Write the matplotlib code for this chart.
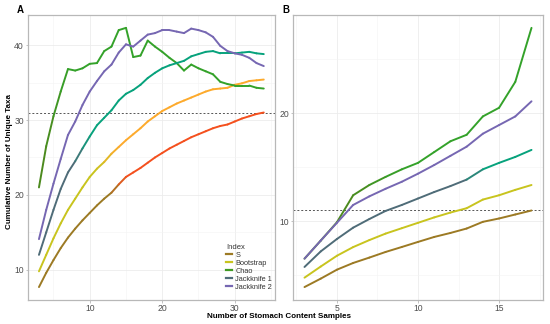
import numpy as np
import matplotlib
matplotlib.use('Agg')
import matplotlib.pyplot as plt
from matplotlib.collections import LineCollection
from matplotlib.colors import to_rgb
from matplotlib.lines import Line2D

plt.rcParams['font.family'] = ['Liberation Sans', 'DejaVu Sans']

# panel A: samples 3..34
samples_a = list(range(3, 35))
s_a = [7.7, 9.6, 11.3, 12.9, 14.3, 15.5, 16.6, 17.6, 18.6, 19.5, 20.3, 21.4, 22.4, 23.0, 23.6, 24.3,
       25.0, 25.6, 26.2, 26.7, 27.2, 27.7, 28.1, 28.5, 28.9, 29.2, 29.4, 29.8, 30.2, 30.5, 30.8, 31.0]
boot_a = [9.8, 12.0, 14.2, 16.2, 18.0, 19.5, 21.0, 22.4, 23.5, 24.4, 25.5, 26.4, 27.3, 28.1, 28.9, 29.8,
          30.5, 31.2, 31.7, 32.2, 32.6, 33.0, 33.4, 33.8, 34.1, 34.2, 34.3, 34.7, 34.9, 35.2, 35.3, 35.4]
chao_a = [21.0, 26.5, 30.5, 33.8, 36.8, 36.6, 36.9, 37.5, 37.6, 39.2, 39.8, 42.0, 42.3, 38.4, 38.6, 40.6,
          39.8, 39.1, 38.3, 37.6, 36.6, 37.4, 36.9, 36.5, 36.1, 35.1, 34.8, 34.6, 34.6, 34.6, 34.3, 34.2]
jack1_a = [12.0, 15.0, 18.0, 20.8, 23.0, 24.5, 26.2, 27.8, 29.3, 30.3, 31.3, 32.6, 33.5, 34.0, 34.7, 35.6,
           36.3, 36.9, 37.3, 37.6, 37.9, 38.5, 38.8, 39.1, 39.2, 38.9, 38.9, 38.9, 39.0, 39.1, 38.9, 38.8]
jack2_a = [14.1, 18.0, 21.5, 24.8, 28.0, 29.8, 32.0, 33.8, 35.2, 36.5, 37.4, 39.0, 40.1, 39.8, 40.6, 41.4,
           41.6, 42.0, 42.0, 41.8, 41.6, 42.2, 42.0, 41.7, 41.1, 39.9, 39.2, 38.9, 38.7, 38.3, 37.6, 37.2]

# panel B: samples 3..17
samples_b = list(range(3, 18))
s_b = [3.9, 4.68, 5.51, 6.13, 6.63, 7.15, 7.61, 8.08, 8.54, 8.91, 9.32, 9.94, 10.25, 10.62, 10.99]
boot_b = [4.77, 5.8, 6.8, 7.6, 8.25, 8.85, 9.35, 9.85, 10.35, 10.8, 11.2, 12.0, 12.4, 12.9, 13.35]
chao_b = [6.53, 8.2, 9.9, 12.4, 13.35, 14.1, 14.8, 15.4, 16.4, 17.4, 18.0, 19.7, 20.5, 22.9, 27.9]
jack1_b = [5.76, 7.2, 8.35, 9.4, 10.2, 10.95, 11.5, 12.1, 12.7, 13.25, 13.85, 14.8, 15.4, 15.95, 16.6]
jack2_b = [6.53, 8.2, 9.85, 11.5, 12.3, 13.0, 13.65, 14.4, 15.2, 16.05, 16.9, 18.1, 18.9, 19.7, 21.1]

observed_a = 31.0
observed_b = 11.0

index_names = ['S', 'Bootstrap', 'Chao', 'Jackknife 1', 'Jackknife 2']
legend_colors = ['#9c7a24', '#c8c41e', '#3f9a22', '#4f6c78', '#7667b2']

BROWN, RED = '#9c7a24', '#f4501e'
YELLOW, ORANGE = '#c8c41e', '#fdaa2c'
OLIVE, GREEN = '#4c8a1e', '#34a22a'
SLATE, TEAL = '#4f6c78', '#07a27c'
PURPLE = '#7667b2'


def fade_line(ax, x, y, c0, c1=None, xa=0, xb=1):
    # line whose colour blends from c0 to c1 between xa and xb
    c1 = c0 if c1 is None else c1
    x = np.asarray(x, float)
    y = np.asarray(y, float)
    pts = np.column_stack([x, y]).reshape(-1, 1, 2)
    segs = np.concatenate([pts[:-1], pts[1:]], axis=1)
    mid = (x[:-1] + x[1:]) / 2
    t = np.clip((mid - xa) / max(xb - xa, 1e-9), 0, 1)[:, None]
    cols = (1 - t) * np.array(to_rgb(c0)) + t * np.array(to_rgb(c1))
    lc = LineCollection(segs, colors=cols, linewidths=1.4, capstyle='round', joinstyle='round', zorder=3)
    ax.add_collection(lc)


def style(ax, xmajor, ymajor):
    ax.set_facecolor('white')
    for sp in ax.spines.values():
        sp.set_color('#b8b8b8')
        sp.set_linewidth(0.9)
    ax.set_xticks(xmajor)
    ax.set_yticks(ymajor)
    xl, yl = ax.get_xlim(), ax.get_ylim()
    xs = np.diff(xmajor)[0] / 2
    ys = np.diff(ymajor)[0] / 2
    ax.set_xticks(np.arange(xmajor[0] - xs * 4, xl[1], xs), minor=True)
    ax.set_yticks(np.arange(ymajor[0] - ys * 4, yl[1], ys), minor=True)
    ax.set_xlim(xl)
    ax.set_ylim(yl)
    ax.grid(which='major', color='#ececec', linewidth=0.6)
    ax.grid(which='minor', color='#f4f4f4', linewidth=0.4)
    ax.set_axisbelow(True)
    ax.tick_params(which='major', length=1.8, width=0.6, color='#b8b8b8',
                   labelsize=6.2, labelcolor='#4d4d4d', pad=1)
    ax.tick_params(which='minor', length=0)


fig = plt.figure(figsize=(5.5, 3.24), dpi=100)
ax1 = fig.add_axes([0.0504, 0.074, 0.4496, 0.880])
ax2 = fig.add_axes([0.533, 0.074, 0.454, 0.880])

# panel A
fade_line(ax1, samples_a, s_a, BROWN, RED, 13, 15)
fade_line(ax1, samples_a, boot_a, YELLOW, ORANGE, 11, 14)
fade_line(ax1, samples_a, chao_a, OLIVE, GREEN, 4, 7)
fade_line(ax1, samples_a, jack1_a, SLATE, TEAL, 8, 10)
fade_line(ax1, samples_a, jack2_a, PURPLE)
ax1.autoscale_view()
ax1.axhline(observed_a, color='#555555', linestyle=(0, (2, 2)), linewidth=0.7, zorder=2)
style(ax1, [10, 20, 30], [10, 20, 30, 40])

# panel B
fade_line(ax2, samples_b, s_b, BROWN)
fade_line(ax2, samples_b, boot_b, YELLOW)
fade_line(ax2, samples_b, chao_b, OLIVE, GREEN, 6, 9)
fade_line(ax2, samples_b, jack1_b, SLATE, TEAL, 13, 14)
fade_line(ax2, samples_b, jack2_b, PURPLE)
ax2.autoscale_view()
ax2.axhline(observed_b, color='#555555', linestyle=(0, (2, 2)), linewidth=0.7, zorder=2)
style(ax2, [5, 10, 15], [10, 20])

handles = [Line2D([], [], color=c, linewidth=1.6) for c in legend_colors]
leg = ax1.legend(handles, index_names, title='Index', loc='upper left', bbox_to_anchor=(0.78, 0.215),
                 frameon=False, fontsize=5.3, title_fontsize=5.5, handlelength=0.8, handletextpad=0.5,
                 labelspacing=0.12, borderpad=0.2)
leg._legend_box.align = 'left'
for txt in leg.get_texts():
    txt.set_color('#333333')
leg.get_title().set_color('#333333')

fig.text(0.031, 0.968, 'A', fontsize=7, fontweight='bold', va='center', ha='left')
fig.text(0.514, 0.968, 'B', fontsize=7, fontweight='bold', va='center', ha='left')
fig.text(0.508, 0.023, 'Number of Stomach Content Samples', fontsize=5.8, fontweight='bold',
         ha='center', va='center')
fig.text(0.018, 0.502, 'Cumulative Number of Unique Taxa', fontsize=5.8, fontweight='bold',
         rotation=90, ha='center', va='center')

fig.savefig('out.png', dpi=100, facecolor='white')
